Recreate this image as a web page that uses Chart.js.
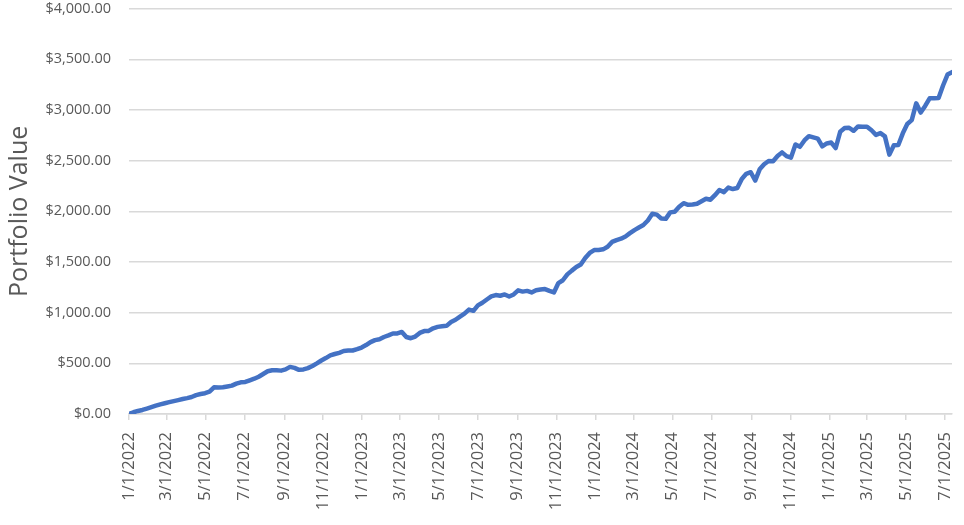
<!DOCTYPE html>
<html>
<head>
<meta charset="utf-8">
<script src="https://cdn.jsdelivr.net/npm/chart.js@4/dist/chart.umd.min.js"></script>
<style>
  html, body { margin: 0; padding: 0; background: #fff; }
  #wrap { width: 964px; height: 525px; }
</style>
</head>
<body>
<div id="wrap"><canvas id="chart" width="964" height="525"></canvas></div>
<script>
// weekly portfolio values, starting 1/1/2022
const startDate = "1/1/2022";
const values = [
  0, 17, 30, 40, 53, 67, 82, 95, 106, 117,
  127, 137, 148, 157, 168, 186, 197, 205, 220, 263,
  262, 264, 272, 280, 300, 313, 316, 332, 348, 368,
  395, 422, 432, 432, 428, 440, 465, 455, 436, 440,
  453, 474, 500, 528, 552, 578, 592, 604, 622, 626,
  627, 640, 656, 680, 710, 729, 738, 760, 776, 795,
  795, 810, 760, 748, 764, 800, 818, 820, 846, 860,
  866, 870, 908, 930, 961, 990, 1030, 1018, 1072, 1098,
  1130, 1160, 1174, 1167, 1180, 1160, 1180, 1220, 1208, 1215,
  1200, 1222, 1228, 1233, 1215, 1200, 1292, 1320, 1378, 1415,
  1450, 1475, 1540, 1590, 1618, 1618, 1625, 1650, 1698, 1716,
  1730, 1752, 1785, 1815, 1840, 1865, 1910, 1977, 1968, 1930,
  1926, 1990, 1995, 2045, 2080, 2065, 2068, 2075, 2100, 2125,
  2115, 2160, 2210, 2190, 2235, 2220, 2230, 2320, 2370, 2386,
  2304, 2415, 2465, 2497, 2495, 2546, 2582, 2545, 2530, 2660,
  2637, 2700, 2742, 2730, 2718, 2642, 2670, 2679, 2625, 2785,
  2822, 2825, 2795, 2838, 2835, 2835, 2800, 2755, 2772, 2740,
  2560, 2652, 2655, 2770, 2862, 2900, 3066, 2975, 3040, 3116,
  3116, 3118, 3242, 3350, 3374
];
const tickLabels = [
  "1/1/2022", "3/1/2022", "5/1/2022", "7/1/2022", "9/1/2022", "11/1/2022",
  "1/1/2023", "3/1/2023", "5/1/2023", "7/1/2023", "9/1/2023", "11/1/2023",
  "1/1/2024", "3/1/2024", "5/1/2024", "7/1/2024", "9/1/2024", "11/1/2024",
  "1/1/2025", "3/1/2025", "5/1/2025", "7/1/2025"
];

function dayNumber(s) {
  const [m, d, y] = s.split("/").map(Number);
  const [m0, d0, y0] = startDate.split("/").map(Number);
  return Math.round((Date.UTC(y, m - 1, d) - Date.UTC(y0, m0 - 1, d0)) / 86400000);
}

const points = values.map((v, i) => ({ x: i * 7, y: v }));
const grey = "#d9d9d9";
const textColor = "#595959";
const fontFamily = "'Open Sans', 'Noto Sans', sans-serif";

new Chart(document.getElementById("chart"), {
  type: "line",
  data: {
    datasets: [{
      data: points,
      borderColor: "#4472C4",
      borderWidth: 4.5,
      borderJoinStyle: "round",
      borderCapStyle: "round",
      pointRadius: 0,
      tension: 0
    }]
  },
  options: {
    responsive: false,
    animation: false,
    layout: { padding: { top: 8, right: 12, left: 0, bottom: 0 } },
    plugins: { legend: { display: false }, tooltip: { enabled: false } },
    scales: {
      x: {
        type: "linear",
        min: 0,
        max: (values.length - 1) * 7,
        afterBuildTicks: s => { s.ticks = tickLabels.map(l => ({ value: dayNumber(l) })); },
        afterFit: s => { s.height = 111; s.paddingRight = 0; s.paddingLeft = 0; },
        ticks: {
          autoSkip: false,
          minRotation: 90,
          maxRotation: 90,
          padding: 12,
          color: textColor,
          font: { family: fontFamily, size: 16.5 },
          callback: (v, i) => tickLabels[i]
        },
        grid: { drawOnChartArea: false, drawTicks: true, tickLength: 6, color: grey, lineWidth: 1.5 },
        border: { display: true, color: grey, width: 1.5 }
      },
      y: {
        min: 0,
        max: 4000,
        afterFit: s => { s.width = 129; },
        ticks: {
          stepSize: 500,
          padding: 0,
          color: textColor,
          font: { family: fontFamily, size: 14.5 },
          callback: v => "$" + v.toLocaleString("en-US", { minimumFractionDigits: 2, maximumFractionDigits: 2 })
        },
        grid: { color: grey, lineWidth: 1.5, drawTicks: true, tickLength: 18, tickColor: "rgba(0,0,0,0)" },
        border: { display: false },
        title: {
          display: true,
          text: "Portfolio Value",
          color: textColor,
          font: { family: fontFamily, size: 25 },
          padding: { top: 5, bottom: 0 }
        }
      }
    }
  }
});
</script>
</body>
</html>
